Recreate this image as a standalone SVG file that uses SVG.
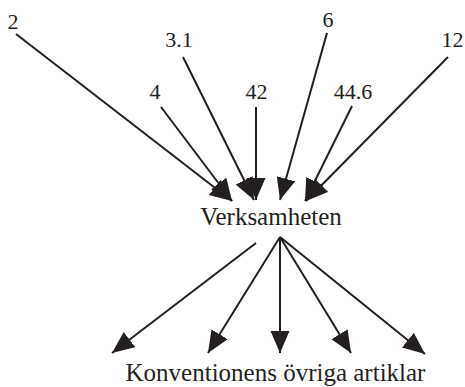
<svg xmlns="http://www.w3.org/2000/svg" width="465" height="387" viewBox="0 0 465 387">
  <style>
    .lbl { font-family: "Liberation Serif", "Times New Roman", serif; fill: #231f20; text-anchor: middle; }
    .num { font-size: 22px; }
    .big { font-size: 25px; }
    .edge { stroke: #231f20; stroke-width: 2; fill: none; marker-end: url(#arrow); }
  </style>
  <defs>
    <marker id="arrow" markerUnits="userSpaceOnUse" markerWidth="22" markerHeight="20" refX="22" refY="9.5" orient="auto">
      <path d="M0,0 L22,9.5 L0,19 Z" fill="#231f20"/>
    </marker>
  </defs>
  <rect width="465" height="387" fill="#ffffff"/>

  <g id="connectors">
    <line class="edge" x1="16" y1="34" x2="232" y2="201"/>
    <line class="edge" x1="161" y1="107" x2="232" y2="201"/>
    <line class="edge" x1="183" y1="57" x2="254" y2="200"/>
    <line class="edge" x1="256" y1="107" x2="256" y2="200"/>
    <line class="edge" x1="327" y1="33" x2="280" y2="200"/>
    <line class="edge" x1="352" y1="106" x2="305" y2="201"/>
    <line class="edge" x1="448" y1="57" x2="306" y2="201"/>

    <line class="edge" x1="256" y1="243" x2="112" y2="353"/>
    <line class="edge" x1="280" y1="237" x2="208" y2="353"/>
    <line class="edge" x1="280" y1="237" x2="280" y2="353"/>
    <line class="edge" x1="280" y1="237" x2="351" y2="353"/>
    <line class="edge" x1="280" y1="237" x2="425" y2="354"/>
  </g>

  <g id="n2"><text class="lbl num" x="13" y="29">2</text></g>
  <g id="n3_1"><text class="lbl num" x="179" y="47">3.1</text></g>
  <g id="n4"><text class="lbl num" x="155" y="99">4</text></g>
  <g id="n42"><text class="lbl num" x="256.5" y="99">42</text></g>
  <g id="n44_6"><text class="lbl num" x="353" y="99">44.6</text></g>
  <g id="n6"><text class="lbl num" x="328" y="27">6</text></g>
  <g id="n12"><text class="lbl num" x="452.5" y="47">12</text></g>

  <g id="verksamheten"><text class="lbl big" x="271" y="225">Verksamheten</text></g>
  <g id="konventionens"><text class="lbl big" x="275.5" y="381">Konventionens övriga artiklar</text></g>
</svg>
